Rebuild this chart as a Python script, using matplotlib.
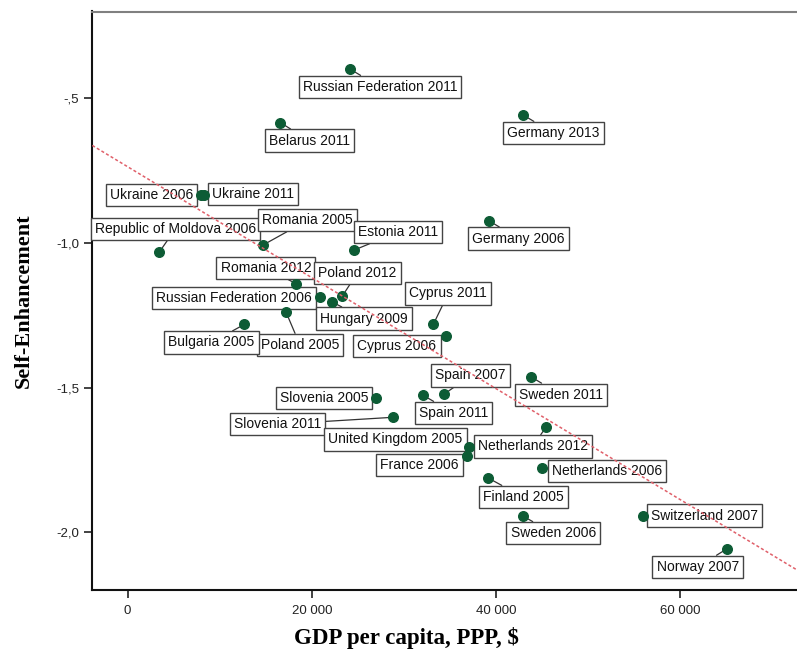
import numpy as np
import matplotlib
matplotlib.use("Agg")
import matplotlib.pyplot as plt
from matplotlib.ticker import FuncFormatter, FixedLocator

# data
countries = ["Russian Federation 2011", "Belarus 2011", "Ukraine 2006", "Ukraine 2011",
             "Republic of Moldova 2006", "Romania 2005", "Estonia 2011", "Romania 2012",
             "Russian Federation 2006", "Hungary 2009", "Poland 2012", "Poland 2005",
             "Cyprus 2011", "Bulgaria 2005", "Cyprus 2006", "Spain 2007", "Sweden 2011",
             "Slovenia 2005", "Spain 2011", "Slovenia 2011", "United Kingdom 2005",
             "France 2006", "Netherlands 2012", "Netherlands 2006", "Finland 2005",
             "Sweden 2006", "Switzerland 2007", "Norway 2007", "Germany 2013", "Germany 2006"]
gdp = [24140, 16570, 7920, 8290, 3430, 14660, 24570, 18270, 20880, 22150, 23300, 17190,
       33180, 12660, 34560, 34310, 43790, 26960, 32030, 28770, 37090, 36870, 45390, 44990,
       39150, 42950, 55920, 65040, 42950, 39200]
self_enh = [-0.399, -0.584, -0.834, -0.834, -1.032, -1.008, -1.025, -1.141, -1.188, -1.203,
            -1.184, -1.239, -1.282, -1.282, -1.323, -1.524, -1.463, -1.537, -1.526, -1.603,
            -1.707, -1.736, -1.638, -1.779, -1.813, -1.945, -1.943, -2.058, -0.558, -0.923]

# label box offsets from each point, in pixels (dx, dy)
label_offsets = {
    "Russian Federation 2011": (30, -18), "Belarus 2011": (29, -18),
    "Ukraine 2006": (-49, 0), "Ukraine 2011": (49, 1),
    "Republic of Moldova 2006": (16, 23), "Romania 2005": (45, 25),
    "Estonia 2011": (44, 18), "Romania 2012": (-30, 16),
    "Russian Federation 2006": (-86, -1), "Hungary 2009": (32, -17),
    "Poland 2012": (15, 23), "Poland 2005": (14, -33),
    "Cyprus 2011": (15, 31), "Bulgaria 2005": (-33, -18),
    "Cyprus 2006": (-49, -10), "Spain 2007": (27, 19),
    "Sweden 2011": (30, -18), "Slovenia 2005": (-52, 0),
    "Spain 2011": (31, -18), "Slovenia 2011": (-115, -7),
    "United Kingdom 2005": (-74, 8), "France 2006": (-48, -9),
    "Netherlands 2012": (-13, -19), "Netherlands 2006": (65, -3),
    "Finland 2005": (35, -19), "Sweden 2006": (30, -17),
    "Switzerland 2007": (62, 0), "Norway 2007": (-29, -18),
    "Germany 2013": (30, -18), "Germany 2006": (30, -18),
}

plt.rcParams['font.family'] = ['Liberation Sans', 'DejaVu Sans']

fig = plt.figure(figsize=(7.97, 6.51), dpi=100)
ax = fig.add_axes([92.3 / 797, 1 - 590 / 651, (797 - 92.3) / 797, (590 - 11.5) / 651])

ax.scatter(gdp, self_enh, s=48, color='#0d5c35', zorder=4)

# OLS fit line
slope, intercept = np.polyfit(gdp, self_enh, 1)
xlim = (-3840, 72670)
xs = np.array(xlim)
ax.plot(xs, intercept + slope * xs, color='#e0606a', lw=1.1,
        linestyle=(0, (2, 1.5)), zorder=5)

for name, x, y in zip(countries, gdp, self_enh):
    dx, dy = label_offsets[name]
    ax.annotate(name, (x, y), xytext=(dx, dy), textcoords='offset pixels',
                ha='center', va='center', fontsize=10, color='#111111', zorder=3,
                bbox=dict(boxstyle='square,pad=0.3', fc='white', ec='#444444', lw=1.0),
                arrowprops=dict(arrowstyle='-', color='#333333', lw=0.9,
                                shrinkA=0, shrinkB=3))

ax.set_xlim(*xlim)
ax.set_ylim(-2.2, -0.2)

ax.xaxis.set_major_locator(FixedLocator([0, 20000, 40000, 60000]))
ax.yaxis.set_major_locator(FixedLocator([-2.0, -1.5, -1.0, -0.5]))
ax.xaxis.set_major_formatter(FuncFormatter(lambda v, p: f"{v:,.0f}".replace(",", " ")))


def fmt_y(v, p):
    s = f"{v:.1f}".replace(".", ",")
    return s.replace("-0,", "-,")


ax.yaxis.set_major_formatter(FuncFormatter(fmt_y))
ax.tick_params(axis='both', labelsize=9.5, length=6, width=1.2, colors='#222222')
ax.tick_params(axis='x', pad=5)

for side in ['left', 'bottom']:
    ax.spines[side].set_linewidth(1.5)
    ax.spines[side].set_color('#111111')
ax.spines['top'].set_color('#808080')
ax.spines['top'].set_linewidth(1.5)
ax.spines['right'].set_visible(False)

ax.set_xlabel("GDP per capita, PPP, $", fontsize=16.5, fontweight='bold',
              family='Liberation Serif')
ax.set_ylabel("Self-Enhancement", fontsize=16, fontweight='bold',
              family='Liberation Serif')
ax.xaxis.set_label_coords((406.5 - 92.3) / 705, -(627 - 590) / 579)
ax.yaxis.set_label_coords(-(92.3 - 34) / 705, 0.5)

fig.savefig("out.png", dpi=100)
